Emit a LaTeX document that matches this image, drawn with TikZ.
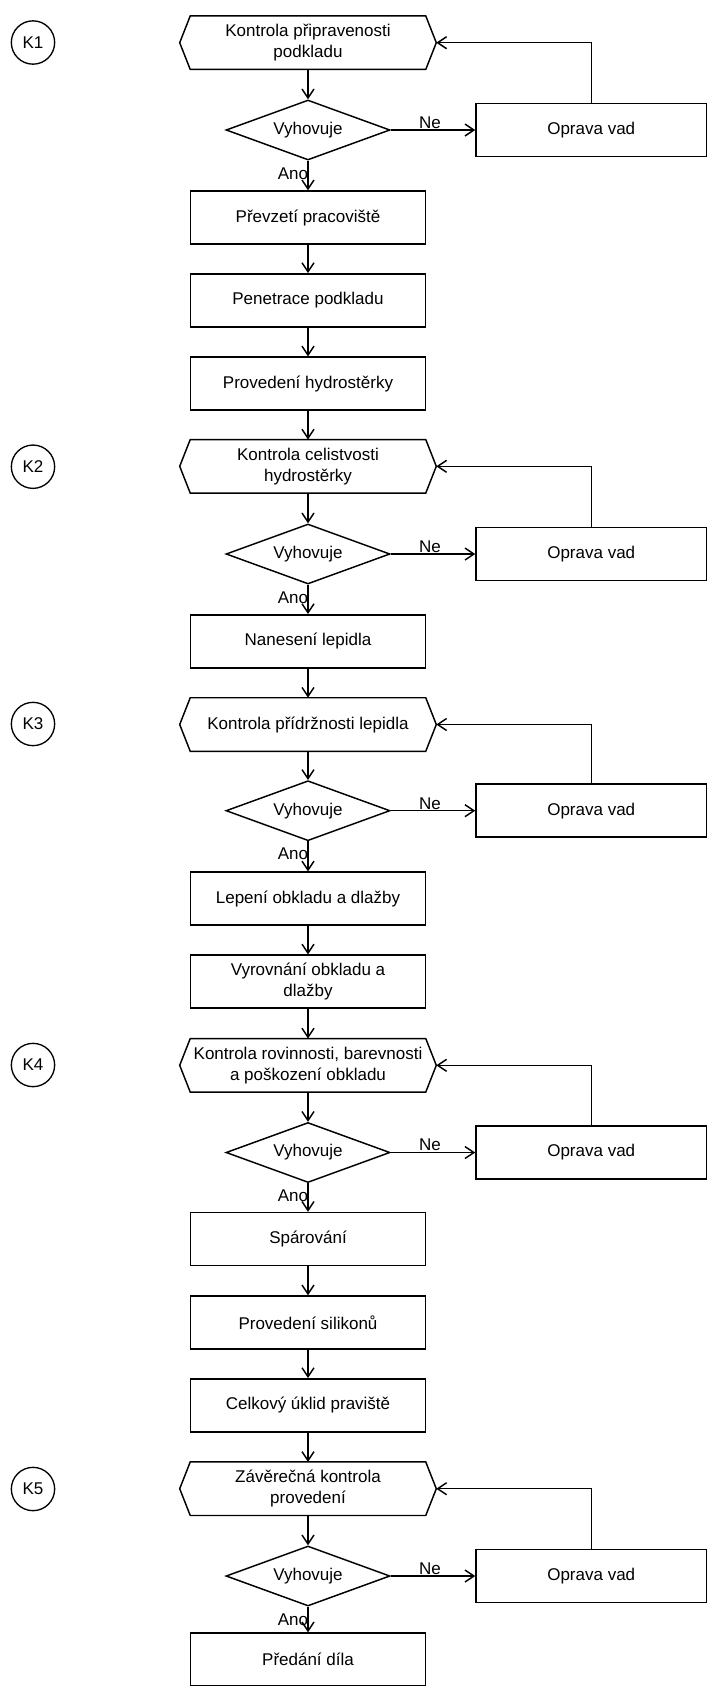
\documentclass[tikz,border=0pt]{standalone}
\usepackage{fontspec}
\setmainfont{Liberation Sans}
\usetikzlibrary{shapes.geometric,arrows.meta}
\begin{document}
\begin{tikzpicture}[x=0.75pt,y=-0.75pt,
  font=\fontsize{12.75pt}{15.75pt}\selectfont,
  every node/.style={align=center},
  line/.style={line width=1.1pt, draw=black},
  arr/.style={line, -{Straight Barb[length=6.75pt,width=9pt,line width=1.1pt]}},
  procbox/.style={draw, line width=1.1pt, rectangle, minimum width=175.9pt, minimum height=39.75pt, inner sep=0pt},
  hexbox/.style={rectangle, minimum width=176.25pt, minimum height=39.75pt, inner sep=0pt},
  decision/.style={draw, line width=1.1pt, diamond, aspect=2.73, minimum width=123pt, minimum height=45pt, inner sep=0pt},
  fixbox/.style={draw, line width=1.1pt, rectangle, minimum width=172.9pt, minimum height=39.75pt, inner sep=0pt},
  kcirc/.style={draw, line width=1pt, circle, minimum size=32.5pt, inner sep=0pt},
  lbl/.style={inner sep=0.5pt}
]
\useasboundingbox[fill=white] (0,0) rectangle (708,1686);

% Section 1
\node[kcirc] (k1) at (33,42.5) {K1};
\node[hexbox] (h1) at (308,42.7) {Kontrola připravenosti\\podkladu};
\node[decision] (d1) at (308,130) {Vyhovuje};
\node[fixbox] (o1) at (591.25,130) {Oprava vad};
\node[procbox] (p1) at (308,217.5) {Převzetí pracoviště};
\node[procbox] (p2) at (308,300.3) {Penetrace podkladu};
\node[procbox] (p3) at (308,383.7) {Provedení hydrostěrky};

% Section 2
\node[kcirc] (k2) at (33,466.7) {K2};
\node[hexbox] (h2) at (308,466.3) {Kontrola celistvosti\\hydrostěrky};
\node[decision] (d2) at (308,554) {Vyhovuje};
\node[fixbox] (o2) at (591.25,554) {Oprava vad};
\node[procbox] (p4) at (308,641.3) {Nanesení lepidla};

% Section 3
\node[kcirc] (k3) at (33,724) {K3};
\node[hexbox] (h3) at (308,724.5) {Kontrola přídržnosti lepidla};
\node[decision] (d3) at (308,810.7) {Vyhovuje};
\node[fixbox] (o3) at (591.25,810.7) {Oprava vad};
\node[procbox] (p5) at (308,898.7) {Lepení obkladu a dlažby};
\node[procbox] (p6) at (308,981.7) {Vyrovnání obkladu a\\dlažby};

% Section 4
\node[kcirc] (k4) at (33,1065) {K4};
\node[hexbox] (h4) at (308,1065.3) {Kontrola rovinnosti, barevnosti\\a poškození obkladu};
\node[decision] (d4) at (308,1152.5) {Vyhovuje};
\node[fixbox] (o4) at (591.25,1152.5) {Oprava vad};
\node[procbox] (p7) at (308,1239) {Spárování};
\node[procbox] (p8) at (308,1322.5) {Provedení silikonů};
\node[procbox] (p9) at (308,1405.3) {Celkový úklid praviště};

% Section 5
\node[kcirc] (k5) at (33,1489) {K5};
\node[hexbox] (h5) at (308,1488.7) {Závěrečná kontrola\\provedení};
\node[decision] (d5) at (308,1576) {Vyhovuje};
\node[fixbox] (o5) at (591.25,1576) {Oprava vad};
\node[procbox] (p10) at (308,1659.5) {Předání díla};

% hexagon outlines
\foreach \h in {h1,h2,h3,h4,h5}{
  \coordinate (\h-r) at ([xshift=7.9pt]\h.east);
  \coordinate (\h-l) at ([xshift=-7.9pt]\h.west);
  \draw[line] (\h.north west) -- (\h.north east) -- (\h-r) -- (\h.south east)
     -- (\h.south west) -- (\h-l) -- cycle;
}

% main flow
\draw[arr] (h1) -- (d1);
\draw[arr] (d1) -- (p1);
\draw[arr] (p1) -- (p2);
\draw[arr] (p2) -- (p3);
\draw[arr] (p3) -- (h2);
\draw[arr] (h2) -- (d2);
\draw[arr] (d2) -- (p4);
\draw[arr] (p4) -- (h3);
\draw[arr] (h3) -- (d3);
\draw[arr] (d3) -- (p5);
\draw[arr] (p5) -- (p6);
\draw[arr] (p6) -- (h4);
\draw[arr] (h4) -- (d4);
\draw[arr] (d4) -- (p7);
\draw[arr] (p7) -- (p8);
\draw[arr] (p8) -- (p9);
\draw[arr] (p9) -- (h5);
\draw[arr] (h5) -- (d5);
\draw[arr] (d5) -- (p10);

% rejection loops
\foreach \i in {1,...,5}{
  \draw[arr] (d\i) -- (o\i);
  \draw[arr] (o\i.north) |- (h\i-r);
}

% labels
\foreach \i/\y in {1/130,2/554,3/810.7,4/1152.5,5/1576}{
  \node[lbl, anchor=south] (ne\i) at (430,\y-0.5) {Ne};
  \node[lbl, anchor=east] (ano\i) at (309,\y+43.3) {Ano};
}
\end{tikzpicture}
\end{document}
